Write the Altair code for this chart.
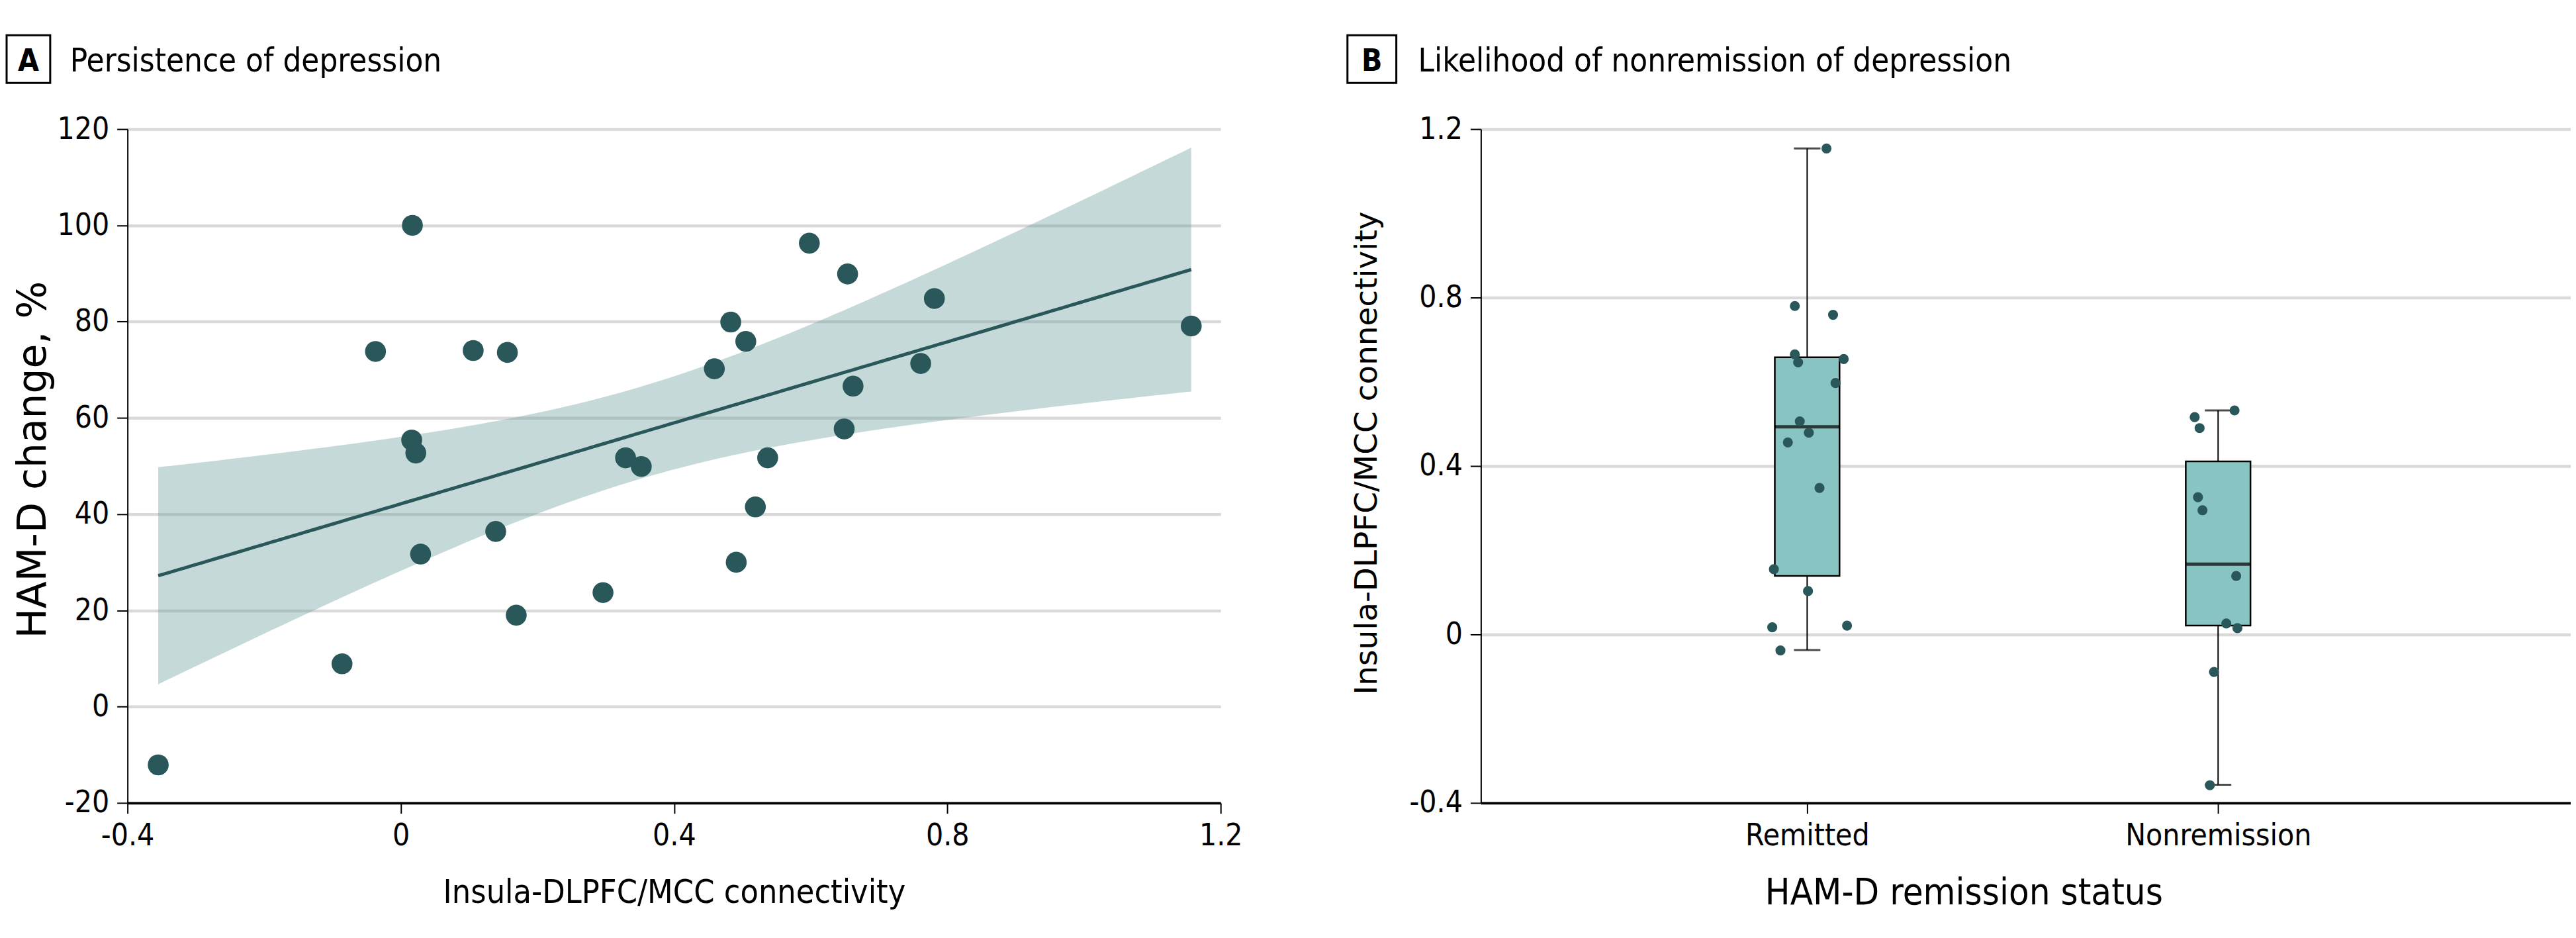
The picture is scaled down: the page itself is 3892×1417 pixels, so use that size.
import altair as alt
import numpy as np
import pandas as pd

FONT = "Liberation Sans Narrow, DejaVu Sans Condensed, Lato, sans-serif"
WIDE = "DejaVu Sans, Verdana, sans-serif"

# ---------------- Panel A data ----------------
conn_a = [0.017, -0.037, 0.106, 0.156, 0.598, 0.654, 0.781, 0.483, 0.505, 0.459,
          0.761, 0.662, 0.649, 1.157, 0.016, 0.022, 0.329, 0.352, 0.537, 0.519,
          0.139, 0.029, 0.491, 0.296, 0.169, -0.086, -0.355]
hamd_change = [100.0, 73.8, 74.0, 73.6, 96.3, 89.9, 84.8, 79.9, 75.9, 70.2,
               71.3, 66.6, 57.7, 79.1, 55.4, 52.7, 51.7, 49.9, 51.7, 41.5,
               36.4, 31.7, 30.0, 23.7, 19.0, 8.9, -12.1]
x_ticks_a = [-0.4, 0, 0.4, 0.8, 1.2]
y_ticks_a = [-20, 0, 20, 40, 60, 80, 100, 120]

# ---------------- Panel B data ----------------
groups = ["Remitted", "Nonremission"]
remitted_vals = [1.154, 0.780, 0.759, 0.665, 0.646, 0.654, 0.597, 0.506, 0.479, 0.456,
                 0.348, 0.155, 0.103, 0.017, 0.021, -0.038]
remitted_jitter = [0.047, -0.030, 0.063, -0.030, -0.022, 0.089, 0.069, -0.018, 0.004, -0.047,
                   0.030, -0.081, 0.002, -0.085, 0.097, -0.065]
nonrem_vals = [0.532, 0.516, 0.490, 0.326, 0.295, 0.139, 0.026, 0.015, -0.089, -0.358]
nonrem_jitter = [0.040, -0.057, -0.045, -0.049, -0.038, 0.044, 0.020, 0.047, -0.010, -0.020]
box_lo = [-0.037, -0.357]
box_q1 = [0.139, 0.021]
box_med = [0.493, 0.167]
box_q3 = [0.658, 0.411]
box_hi = [1.154, 0.532]
y_ticks_b = [-0.4, 0, 0.4, 0.8, 1.2]

title_a = "Persistence of depression"
title_b = "Likelihood of nonremission of depression"

# ---------------- derived tables ----------------
xa = np.array(conn_a)
ya = np.array(hamd_change)
n = len(xa)
xm, ym = xa.mean(), ya.mean()
sxx = ((xa - xm) ** 2).sum()
b1 = ((xa - xm) * (ya - ym)).sum() / sxx
b0 = ym - b1 * xm
s = np.sqrt(((ya - (b0 + b1 * xa)) ** 2).sum() / (n - 2))
tval = 2.0595  # t(0.975, df=25)
grid = np.linspace(xa.min(), xa.max(), 120)
fit = b0 + b1 * grid
se = s * np.sqrt(1.0 / n + (grid - xm) ** 2 / sxx)
fit_df = pd.DataFrame({"x": grid, "fit": fit, "lo": fit - tval * se, "hi": fit + tval * se})
pts_a = pd.DataFrame({"x": conn_a, "y": hamd_change})

pts_b = pd.DataFrame({
    "g": [groups[0]] * len(remitted_vals) + [groups[1]] * len(nonrem_vals),
    "v": remitted_vals + nonrem_vals,
    "pos": [1 + j for j in remitted_jitter] + [2 + j for j in nonrem_jitter],
})
box_df = pd.DataFrame({"g": groups, "pos": [1, 2], "lo": box_lo, "q1": box_q1,
                       "med": box_med, "q3": box_q3, "hi": box_hi})

DARK = "#29575a"
GRID = "#d9d9d9"
MINUS = "\u2212"


def lab_expr(decimals):
    if decimals == 0:
        return f"replace(format(datum.value, 'd'), '{MINUS}', '-')"
    return f"datum.value == 0 ? '0' : replace(format(datum.value, '.1f'), '{MINUS}', '-')"


def panel_label(letter, title, box_x, box_w, text_x):
    d = pd.DataFrame({"letter": [letter], "title": [title]})
    base = alt.Chart(d)
    box = base.mark_rect(fill="white", stroke="black", strokeWidth=3).encode(
        x=alt.value(box_x), x2=alt.value(box_x + box_w), y=alt.value(-142), y2=alt.value(-70))
    let = base.mark_text(font=FONT, fontSize=46, fontWeight="bold", align="center",
                         baseline="alphabetic", color="black").encode(
        x=alt.value(box_x + box_w / 2), y=alt.value(-88), text="letter:N")
    tit = base.mark_text(font=FONT, fontSize=49, align="left", baseline="alphabetic",
                         color="black").encode(
        x=alt.value(text_x), y=alt.value(-87), text="title:N")
    return [box, let, tit]


common_axis = dict(domainColor="black", tickColor="black", tickWidth=2, tickSize=16,
                   labelPadding=12, labelLimit=0)

# ---------------- Panel A ----------------
xa_scale = alt.Scale(domain=[-0.4, 1.2], nice=False, zero=False)
ya_scale = alt.Scale(domain=[-20, 120], nice=False, zero=False)

xa_axis = alt.Axis(values=x_ticks_a, labelExpr=lab_expr(1), grid=False,
                   title="Insula-DLPFC/MCC connectivity", titleY=136, titleBaseline="middle",
                   titleFontSize=50, domainWidth=3.5, **common_axis)
ya_axis = alt.Axis(values=y_ticks_a, labelExpr=lab_expr(0), grid=True, gridColor=GRID,
                   gridWidth=4.5, title="HAM-D change, %", titleX=-142, titleY=500,
                   titleAngle=-90, titleBaseline="middle", titleAlign="center",
                   titleFont=WIDE, titleFontSize=60, domainWidth=2, **common_axis)

band = alt.Chart(fit_df).mark_area(color="#6ea09d", opacity=0.4).encode(
    x=alt.X("x:Q", scale=xa_scale, axis=xa_axis),
    y=alt.Y("lo:Q", scale=ya_scale, axis=ya_axis),
    y2="hi:Q")
line = alt.Chart(fit_df).mark_line(color=DARK, strokeWidth=5).encode(
    x=alt.X("x:Q", scale=xa_scale), y=alt.Y("fit:Q", scale=ya_scale))
dots_a = alt.Chart(pts_a).mark_circle(size=1000, color=DARK, opacity=1).encode(
    x=alt.X("x:Q", scale=xa_scale), y=alt.Y("y:Q", scale=ya_scale))

panel_a = alt.layer(band, line, dots_a, *panel_label("A", title_a, -183, 66, -87)).properties(
    width=1655, height=1020)

# ---------------- Panel B ----------------
xb_scale = alt.Scale(domain=[0.214, 2.850], nice=False, zero=False)
yb_scale = alt.Scale(domain=[-0.4, 1.2], nice=False, zero=False)
xb_axis = alt.Axis(values=[1, 2],
                   labelExpr=f"datum.value == 1 ? '{groups[0]}' : '{groups[1]}'",
                   grid=False, title="HAM-D remission status", titleX=731, titleY=136,
                   titleAlign="center", titleBaseline="middle", titleFontSize=56,
                   domainWidth=3.5, **common_axis)
yb_axis = alt.Axis(values=y_ticks_b, labelExpr=lab_expr(1), grid=True, gridColor=GRID,
                   gridWidth=4.5, title="Insula-DLPFC/MCC connectivity", titleX=-172,
                   titleY=490, titleAngle=-90, titleBaseline="middle", titleAlign="center",
                   titleFont=WIDE, titleFontSize=47, domainWidth=2, **common_axis)

whisk = alt.Chart(box_df).mark_rule(color="black", strokeWidth=2).encode(
    x=alt.X("pos:Q", scale=xb_scale, axis=xb_axis),
    y=alt.Y("lo:Q", scale=yb_scale, axis=yb_axis),
    y2="hi:Q")
cap_lo = alt.Chart(box_df).mark_tick(color="black", orient="horizontal", size=40,
                                     thickness=3).encode(
    x=alt.X("pos:Q", scale=xb_scale), y=alt.Y("lo:Q", scale=yb_scale))
cap_hi = alt.Chart(box_df).mark_tick(color="black", orient="horizontal", size=40,
                                     thickness=3).encode(
    x=alt.X("pos:Q", scale=xb_scale), y=alt.Y("hi:Q", scale=yb_scale))
boxes = alt.Chart(box_df).mark_bar(size=98, fill="#88c4c1", stroke="black", strokeWidth=2.5,
                                   orient="vertical").encode(
    x=alt.X("pos:Q", scale=xb_scale), y=alt.Y("q1:Q", scale=yb_scale), y2="q3:Q")
meds = alt.Chart(box_df).mark_tick(color="black", orient="horizontal", size=98,
                                   thickness=5).encode(
    x=alt.X("pos:Q", scale=xb_scale), y=alt.Y("med:Q", scale=yb_scale))
dots_b = alt.Chart(pts_b).mark_circle(size=230, color=DARK, opacity=1).encode(
    x=alt.X("pos:Q", scale=xb_scale), y=alt.Y("v:Q", scale=yb_scale))

panel_b = alt.layer(whisk, cap_lo, cap_hi, boxes, meds, dots_b,
                    *panel_label("B", title_b, -202, 74, -95)).properties(width=1650, height=1020)

chart = alt.hconcat(panel_a, panel_b, spacing=157).properties(
    padding={"top": 42, "left": 0, "right": 0, "bottom": 5}
).configure_view(stroke=None).configure_axis(
    labelFont=FONT, titleFont=FONT, labelFontSize=46,
    labelColor="black", titleColor="black", titleFontWeight="normal"
).configure_axisX(labelFlush=False)

chart.save("out.html", embed_options={"renderer": "svg", "actions": False})
